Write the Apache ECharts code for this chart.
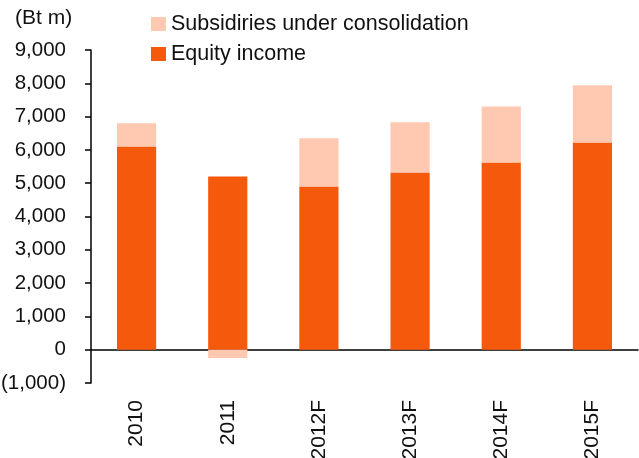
<!DOCTYPE html>
<html>
<head>
<meta charset="utf-8">
<script src="https://cdn.jsdelivr.net/npm/echarts@6/dist/echarts.min.js"></script>
<style>
  html, body { margin: 0; padding: 0; background: #fff; }
  #chart { width: 639px; height: 458px; }
</style>
</head>
<body>
<div id="chart"></div>
<script>
const years = ["2010", "2011", "2012F", "2013F", "2014F", "2015F"];
const equityIncome = [6100, 5200, 4900, 5320, 5620, 6220];
const subsidiaries = [700, -250, 1450, 1510, 1680, 1720];

const FONT = "Liberation Sans";

function fmt(v) {
  const s = Math.abs(v).toLocaleString("en-US");
  return v < 0 ? "(" + s + ")" : s;
}

const chart = echarts.init(document.getElementById("chart"));
chart.setOption({
  animation: false,
  textStyle: { fontFamily: FONT },
  grid: { left: 91, right: 1, top: 50, bottom: 75, outerBoundsMode: "none", containLabel: false },
  legend: {
    orient: "vertical",
    left: 146,
    top: 8,
    itemWidth: 15,
    itemHeight: 14,
    itemGap: 8,
    icon: "rect",
    textStyle: { fontFamily: FONT, fontSize: 21.5, color: "#111" },
    data: ["Subsidiries under consolidation", "Equity income"],
  },
  graphic: [
    {
      type: "text",
      left: 15,
      top: 8,
      style: { text: "(Bt m)", fontFamily: FONT, fontSize: 21, fill: "#111" },
    },
  ],
  xAxis: [
    {
      type: "category",
      data: years,
      axisLine: { onZero: true, lineStyle: { color: "#000", width: 1.5 } },
      axisTick: { length: 6, lineStyle: { color: "#000", width: 1.5 } },
      axisLabel: { show: false },
    },
    {
      type: "category",
      data: years,
      position: "bottom",
      axisLine: { show: false },
      axisTick: { show: false },
      axisLabel: {
        rotate: 90,
        margin: 17,
        fontFamily: FONT,
        fontSize: 21,
        color: "#111",
      },
    },
  ],
  yAxis: {
    type: "value",
    min: -1000,
    max: 9000,
    interval: 1000,
    splitLine: { show: false },
    axisLine: { show: true, lineStyle: { color: "#000", width: 1.5 } },
    axisTick: { show: true, length: 6, lineStyle: { color: "#000", width: 1.5 } },
    axisLabel: {
      margin: 25,
      fontFamily: FONT,
      fontSize: 20.5,
      color: "#111",
      formatter: fmt,
    },
  },
  series: [
    {
      name: "Equity income",
      type: "bar",
      stack: "total",
      barWidth: "43%",
      itemStyle: { color: "#F5590C" },
      data: equityIncome,
    },
    {
      name: "Subsidiries under consolidation",
      type: "bar",
      stack: "total",
      barWidth: "43%",
      itemStyle: { color: "#FFC8B0" },
      data: subsidiaries,
    },
  ],
});
</script>
</body>
</html>
